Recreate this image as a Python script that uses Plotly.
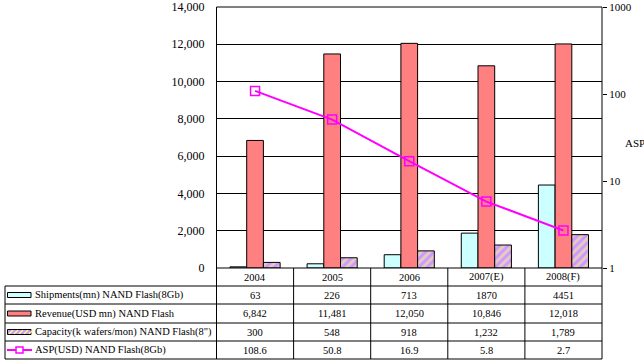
import plotly.graph_objects as go

categories = ["2004", "2005", "2006", "2007(E)", "2008(F)"]
shipments = [63, 226, 713, 1870, 4451]
revenue = [6842, 11481, 12050, 10846, 12018]
capacity = [300, 548, 918, 1232, 1789]
asp = [108.6, 50.8, 16.9, 5.8, 2.7]

row_labels = ["Shipments(mn) NAND Flash(8Gb)", "Revenue(USD mn) NAND Flash",
              "Capacity(k wafers/mon) NAND Flash(8\")", "ASP(USD) NAND Flash(8Gb)"]
row_text = [[str(v) for v in shipments],
            [f"{v:,}" for v in revenue],
            [f"{v:,}" for v in capacity],
            [f"{v:.1f}" for v in asp]]

W, H = 644, 362
def px(x): return x / W
def py(y): return (H - y) / H

FONT = "Times New Roman, Liberation Serif, serif"
C_SHIP = "#CCFFFF"
C_REV = "#FF8080"
C_CAP = "#CC99FF"
C_STRIPE = "#FFFF80"
C_ASP = "#FF00FF"

fig = go.Figure()
fig.add_trace(go.Bar(x=categories, y=shipments, name=row_labels[0],
                     marker=dict(color=C_SHIP, line=dict(color="black", width=1))))
fig.add_trace(go.Bar(x=categories, y=revenue, name=row_labels[1],
                     marker=dict(color=C_REV, line=dict(color="black", width=1))))
fig.add_trace(go.Bar(x=categories, y=capacity, name=row_labels[2],
                     marker=dict(color=C_CAP, line=dict(color="black", width=1),
                                 pattern=dict(shape="/", fgcolor=C_STRIPE, bgcolor=C_CAP,
                                              size=6, solidity=0.5))))
fig.add_trace(go.Scatter(x=categories, y=asp, yaxis="y2", mode="lines+markers",
                         name=row_labels[3],
                         line=dict(color=C_ASP, width=2),
                         marker=dict(symbol="square-open", size=9, color=C_ASP,
                                     line=dict(width=1.5, color=C_ASP))))

x0, x1 = 216.5, 602
y_top, y_bot = 7, 268

shapes = []
def hline(y, xa, xb):
    shapes.append(dict(type="line", xref="paper", yref="paper", x0=px(xa), x1=px(xb),
                       y0=py(y), y1=py(y), line=dict(color="black", width=1)))
def vline(x, ya, yb):
    shapes.append(dict(type="line", xref="paper", yref="paper", x0=px(x), x1=px(x),
                       y0=py(ya), y1=py(yb), line=dict(color="black", width=1)))

# plot frame
vline(x0, y_top, 359)
vline(x1, y_top, 359)
hline(y_top, x0, x1)
# table
row_lines = [286, 304, 323, 341, 359]
hline(268, x0, x1)
for yl in row_lines:
    hline(yl, 5, x1)
vline(5, 286, 359)
colw = (x1 - x0) / len(categories)
for i in range(1, len(categories)):
    vline(x0 + i * colw, 268, 359)

TS = 10.5
annotations = []
# header
for i, c in enumerate(categories):
    annotations.append(dict(x=i, xref="x", y=py(277), yref="paper", text=c,
                            showarrow=False, font=dict(family=FONT, size=TS, color="black"),
                            xanchor="center", yanchor="middle"))
row_centers = [295, 313.5, 332, 350]
for r, yc in enumerate(row_centers):
    annotations.append(dict(x=px(33), xref="paper", y=py(yc), yref="paper", text=row_labels[r],
                            showarrow=False, font=dict(family=FONT, size=TS, color="black"),
                            xanchor="left", yanchor="middle"))
    for i, t in enumerate(row_text[r]):
        annotations.append(dict(x=i, xref="x", y=py(yc), yref="paper", text=t,
                                showarrow=False, font=dict(family=FONT, size=TS, color="black"),
                                xanchor="center", yanchor="middle"))
# legend keys
key_cols = [C_SHIP, C_REV, C_CAP]
for r in range(3):
    yc = row_centers[r]
    shapes.append(dict(type="rect", xref="paper", yref="paper", x0=px(7.5), x1=px(31),
                       y0=py(yc - 2.5), y1=py(yc + 2.5), fillcolor=key_cols[r],
                       line=dict(color="black", width=1)))
# hatch on capacity key
for k in range(0, 22, 5):
    shapes.append(dict(type="line", xref="paper", yref="paper",
                       x0=px(9 + k), x1=px(9 + k + 4),
                       y0=py(row_centers[2] + 1.8), y1=py(row_centers[2] - 1.8),
                       line=dict(color=C_STRIPE, width=1.5)))
ya = row_centers[3]
shapes.append(dict(type="line", xref="paper", yref="paper", x0=px(7), x1=px(32),
                   y0=py(ya), y1=py(ya), line=dict(color=C_ASP, width=2)))
shapes.append(dict(type="rect", xref="paper", yref="paper", x0=px(16), x1=px(23),
                   y0=py(ya - 3), y1=py(ya + 3), fillcolor="white",
                   line=dict(color=C_ASP, width=1.5)))
annotations.append(dict(x=px(623), xref="paper", y=py(143), yref="paper", text="ASP",
                        showarrow=False, font=dict(family=FONT, size=11, color="black"),
                        xanchor="left", yanchor="middle"))

fig.update_layout(
    width=W, height=H,
    margin=dict(l=0, r=0, t=0, b=0),
    paper_bgcolor="white", plot_bgcolor="white",
    showlegend=False,
    barmode="group", bargap=0.35, bargroupgap=0,
    font=dict(family=FONT, size=12, color="black"),
    xaxis=dict(type="category", range=[-0.5, 4.5],
               domain=[px(x0), px(x1)], showticklabels=False, ticks="",
               showgrid=False, zeroline=False, showline=False, automargin=False),
    yaxis=dict(domain=[py(y_bot), py(y_top)], range=[0, 14000], dtick=2000,
               tickformat=",d", showgrid=True, gridcolor="black", gridwidth=1,
               zeroline=False, showline=False, ticks="", ticklabelstandoff=11,
               tickfont=dict(family=FONT, size=12), automargin=False),
    yaxis2=dict(overlaying="y", side="right", type="log", range=[0, 3],
                tickvals=[1, 10, 100, 1000], ticktext=["1", "10", "100", "1000"],
                ticks="outside", ticklen=4, tickcolor="black", showgrid=False,
                zeroline=False, showline=False, tickfont=dict(family=FONT, size=11),
                automargin=False),
    shapes=shapes, annotations=annotations,
)

fig.write_html("out.html", config=dict(displayModeBar=False),
               post_script="document.body.style.margin='0';document.body.style.overflow='hidden';")
